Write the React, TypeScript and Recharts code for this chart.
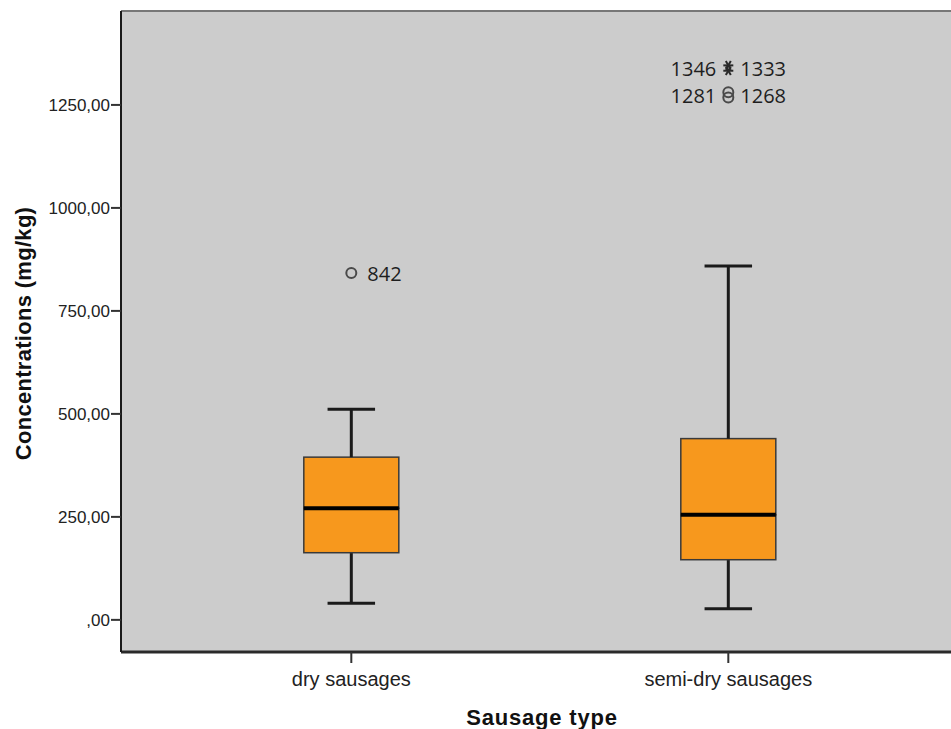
import React from 'react';
import { ComposedChart, Bar, Scatter, XAxis, YAxis, CartesianGrid, ReferenceLine } from 'recharts';

// ---- data ----
const categories = ['dry sausages', 'semi-dry sausages'];
const positions = [1, 2];
const whiskerLow = [40.5, 27];
const quartile1 = [163, 146];
const medians = [271, 255];
const quartile3 = [395, 440];
const whiskerHigh = [511, 859];

const outlierCategory = [1, 2, 2, 2, 2];
const outlierValues = [842, 1346, 1333, 1281, 1268];
const outlierLabels = ['842', '1346', '1333', '1281', '1268'];
const outlierKinds = ['circle', 'star', 'star', 'circle', 'circle'];

const yTicks = [0, 250, 500, 750, 1000, 1250];

// ---- layout (not data) ----
const labelSide = ['right', 'left', 'right', 'left', 'right'];
const labelDy = [0, 3, -2.5, 3, -2.5];
const labelGap = [16, 12, 12, 12, 12];
const X_DOMAIN: [number, number] = [0.3891, 2.5907];
const Y_DOMAIN: [number, number] = [-78, 1478];
const BOX_FILL = '#F7981D';
const BG = '#CCCCCC';

const rows = categories.map((name, i) => ({
  pos: positions[i],
  name,
  base: whiskerLow[i],
  lowW: quartile1[i] - whiskerLow[i],
  lowBox: medians[i] - quartile1[i],
  upBox: quartile3[i] - medians[i],
  upW: whiskerHigh[i] - quartile3[i],
}));

const outliers = outlierValues.map((v, i) => ({
  pos: outlierCategory[i],
  value: v,
  label: outlierLabels[i],
  kind: outlierKinds[i],
  side: labelSide[i],
  dy: labelDy[i],
  gap: labelGap[i],
}));

const fmtY = (v: number) => (v === 0 ? ',00' : `${v},00`);

const LowWhisker = (p: any) => {
  const cx = p.x + p.width / 2;
  const cap = p.width / 4;
  return (
    <g>
      <line x1={cx} x2={cx} y1={p.y} y2={p.y + p.height} stroke="#1a1a1a" strokeWidth={3} />
      <line x1={cx - cap} x2={cx + cap} y1={p.y + p.height} y2={p.y + p.height} stroke="#1a1a1a" strokeWidth={3} />
    </g>
  );
};
const HighWhisker = (p: any) => {
  const cx = p.x + p.width / 2;
  const cap = p.width / 4;
  return (
    <g>
      <line x1={cx} x2={cx} y1={p.y} y2={p.y + p.height} stroke="#1a1a1a" strokeWidth={3} />
      <line x1={cx - cap} x2={cx + cap} y1={p.y} y2={p.y} stroke="#1a1a1a" strokeWidth={3} />
    </g>
  );
};
const LowBox = (p: any) => (
  <rect x={p.x} y={p.y} width={p.width} height={p.height} fill={BOX_FILL} stroke="#3a3a3a" strokeWidth={1.5} />
);
const UpBox = (p: any) => (
  <g>
    <rect x={p.x} y={p.y} width={p.width} height={p.height} fill={BOX_FILL} stroke="#3a3a3a" strokeWidth={1.5} />
    <line x1={p.x} x2={p.x + p.width} y1={p.y + p.height} y2={p.y + p.height} stroke="#000" strokeWidth={4} />
  </g>
);

const OutlierShape = (p: any) => {
  const { cx, cy, payload } = p;
  if (cx == null || cy == null) return null;
  const r = 5;
  const marker =
    payload.kind === 'circle' ? (
      <circle cx={cx} cy={cy} r={r} fill="none" stroke="#4a4a4a" strokeWidth={2} />
    ) : (
      <g stroke="#2a2a2a" strokeWidth={2}>
        {[0, 60, 120].map((a) => {
          const rad = (a * Math.PI) / 180;
          return (
            <line key={a} x1={cx - r * Math.cos(rad)} y1={cy - r * Math.sin(rad)} x2={cx + r * Math.cos(rad)} y2={cy + r * Math.sin(rad)} />
          );
        })}
      </g>
    );
  const left = payload.side === 'left';
  return (
    <g>
      {marker}
      <text
        x={left ? cx - payload.gap : cx + payload.gap}
        y={cy + payload.dy}
        dominantBaseline="central"
        textAnchor={left ? 'end' : 'start'}
        fontFamily="'Open Sans', sans-serif"
        fontSize={20}
        fill="#1e1e1e"
      >
        {payload.label}
      </text>
    </g>
  );
};

const YTitle = (props: any) => {
  const vb = props.viewBox || {};
  const cy = vb.y + vb.height / 2 + 2;
  return (
    <text
      x={23}
      y={cy}
      transform={`rotate(-90, 23, ${cy})`}
      textAnchor="middle"
      dominantBaseline="central"
      fontFamily="'Liberation Sans', Arial, sans-serif"
      fontWeight="bold"
      fontSize={22}
      letterSpacing={0.3}
      fill="#111"
    >
      Concentrations (mg/kg)
    </text>
  );
};
const XTitle = (props: any) => {
  const vb = props.viewBox || {};
  return (
    <text
      x={vb.x + 421}
      y={725}
      textAnchor="middle"
      fontFamily="'Liberation Sans', Arial, sans-serif"
      fontWeight="bold"
      fontSize={22}
      letterSpacing={0.8}
      fill="#111"
    >
      Sausage type
    </text>
  );
};

export default function App() {
  return (
    <div style={{ position: 'absolute', left: 0, top: 0, width: 951, height: 729, overflow: 'hidden', background: '#fff' }}>
      <ComposedChart width={951} height={729} data={rows} margin={{ top: 11, right: 0, bottom: 0, left: 0 }}>
        <CartesianGrid fill={BG} horizontal={false} vertical={false} />
        <ReferenceLine y={Y_DOMAIN[1]} stroke="#777" strokeWidth={2} ifOverflow="extendDomain" />
        <XAxis
          dataKey="pos"
          type="number"
          domain={X_DOMAIN}
          allowDataOverflow
          ticks={positions}
          tickFormatter={(v: number) => categories[positions.indexOf(v)] ?? ''}
          height={77}
          tickSize={11}
          tickMargin={9}
          axisLine={{ stroke: '#2a2a2a', strokeWidth: 3 }}
          tickLine={{ stroke: '#333', strokeWidth: 2 }}
          tick={{ fontSize: 20, fill: '#222', fontFamily: "'Liberation Sans', Arial, sans-serif" }}
          label={<XTitle />}
        />
        <YAxis
          type="number"
          domain={Y_DOMAIN}
          allowDataOverflow
          ticks={yTicks}
          tickFormatter={fmtY}
          width={121}
          tickSize={10}
          tickMargin={1}
          axisLine={{ stroke: '#1a1a1a', strokeWidth: 2 }}
          tickLine={{ stroke: '#333', strokeWidth: 2 }}
          tick={{ fontSize: 17, fill: '#222', fontFamily: "'Liberation Sans', Arial, sans-serif" }}
          label={<YTitle />}
        />
        <Bar dataKey="base" stackId="box" fill="none" barSize={95} isAnimationActive={false} />
        <Bar dataKey="lowW" stackId="box" barSize={95} shape={<LowWhisker />} isAnimationActive={false} />
        <Bar dataKey="lowBox" stackId="box" barSize={95} shape={<LowBox />} isAnimationActive={false} />
        <Bar dataKey="upBox" stackId="box" barSize={95} shape={<UpBox />} isAnimationActive={false} />
        <Bar dataKey="upW" stackId="box" barSize={95} shape={<HighWhisker />} isAnimationActive={false} />
        <Scatter data={outliers} dataKey="value" shape={<OutlierShape />} isAnimationActive={false} />
      </ComposedChart>
    </div>
  );
}
